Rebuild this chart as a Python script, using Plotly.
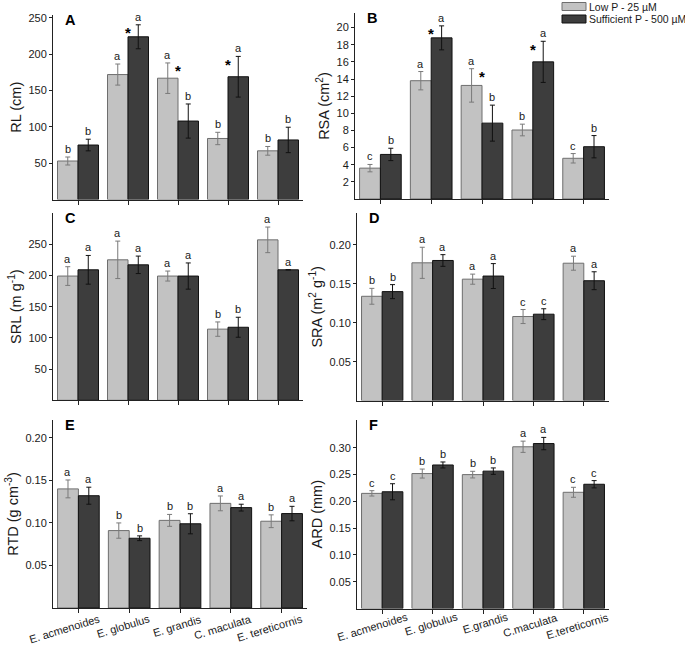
import plotly.graph_objects as go

W, H = 685, 650

species_E = ["E. acmenoides", "E. globulus", "E. grandis", "C. maculata", "E. tereticornis"]
species_F = ["E. acmenoides", "E. globulus", "E.grandis", "C.maculata", "E.tereticornis"]

series_names = ["Low P - 25 µM", "Sufficient P - 500 µM"]

# Panel A: RL (cm)
RL_low = [53, 172, 167, 84, 67]
RL_low_err = [5.5, 14.5, 21, 8.5, 6]
RL_suf = [75, 224, 108, 169, 82]
RL_suf_err = [8, 16.5, 23.5, 28, 17.5]
RL_let_low = ["b", "a", "a", "b", "b"]
RL_let_suf = ["b", "a", "b", "a", "b"]
RL_star = [False, True, True, True, False]

# Panel B: RSA (cm2)
RSA_low = [3.6, 13.8, 13.25, 8.05, 4.75]
RSA_low_err = [0.43, 1.07, 1.95, 0.68, 0.55]
RSA_suf = [5.2, 18.8, 8.85, 16.0, 6.1]
RSA_suf_err = [0.72, 1.4, 2.1, 2.4, 1.3]
RSA_let_low = ["c", "a", "a", "b", "c"]
RSA_let_suf = ["b", "a", "b", "a", "b"]
RSA_star = [False, True, True, True, False]

# Panel C: SRL (m g-1)
SRL_low = [199, 225, 199, 114, 257]
SRL_low_err = [15, 30, 8, 11.5, 20.5]
SRL_suf = [209, 217, 199, 117, 209]
SRL_suf_err = [23, 14, 21, 16, 0]
SRL_let_low = ["a", "a", "a", "b", "a"]
SRL_let_suf = ["a", "a", "a", "b", "a"]

# Panel D: SRA (m2 g-1)
SRA_low = [0.134, 0.177, 0.156, 0.108, 0.1765]
SRA_low_err = [0.0102, 0.02, 0.0065, 0.009, 0.009]
SRA_suf = [0.140, 0.180, 0.160, 0.111, 0.154]
SRA_suf_err = [0.009, 0.0075, 0.016, 0.007, 0.0115]
SRA_let_low = ["b", "a", "a", "c", "a"]
SRA_let_suf = ["b", "a", "a", "c", "a"]

# Panel E: RTD (g cm-3)
RTD_low = [0.140, 0.091, 0.103, 0.123, 0.102]
RTD_low_err = [0.0105, 0.009, 0.007, 0.0087, 0.0075]
RTD_suf = [0.132, 0.082, 0.099, 0.118, 0.111]
RTD_suf_err = [0.010, 0.0028, 0.0118, 0.004, 0.0085]
RTD_let_low = ["a", "b", "b", "a", "b"]
RTD_let_suf = ["a", "b", "b", "a", "a"]

# Panel F: ARD (mm)
ARD_low = [0.215, 0.252, 0.250, 0.302, 0.217]
ARD_low_err = [0.005, 0.0084, 0.0062, 0.0105, 0.0093]
ARD_suf = [0.218, 0.268, 0.2565, 0.308, 0.232]
ARD_suf_err = [0.015, 0.0056, 0.006, 0.0115, 0.0068]
ARD_let_low = ["c", "b", "b", "a", "c"]
ARD_let_suf = ["c", "b", "b", "a", "c"]

NO_STAR = [False] * 5

panels = [
    dict(tag="A", title="RL (cm)", low=RL_low, le=RL_low_err, suf=RL_suf, se=RL_suf_err,
         ll=RL_let_low, sl=RL_let_suf, star=RL_star, rng=[0, 254],
         tv=[50, 100, 150, 200, 250], tt=["50", "100", "150", "200", "250"],
         px=(53, 303), py=(15, 199.5), cats=None, lab=None),
    dict(tag="B", title="RSA (cm<sup>2</sup>)", low=RSA_low, le=RSA_low_err, suf=RSA_suf, se=RSA_suf_err,
         ll=RSA_let_low, sl=RSA_let_suf, star=RSA_star, rng=[0, 21.7],
         tv=[2, 4, 6, 8, 10, 12, 14, 16, 18, 20], tt=["2", "4", "6", "8", "10", "12", "14", "16", "18", "20"],
         px=(355, 609), py=(13, 199), cats=None, lab=None),
    dict(tag="C", title="SRL (m g<sup>-1</sup>)", low=SRL_low, le=SRL_low_err, suf=SRL_suf, se=SRL_suf_err,
         ll=SRL_let_low, sl=SRL_let_suf, star=NO_STAR, rng=[0, 300],
         tv=[50, 100, 150, 200, 250], tt=["50", "100", "150", "200", "250"],
         px=(53, 303), py=(213, 400.3), cats=None, lab=None),
    dict(tag="D", title="SRA (m<sup>2</sup> g<sup>-1</sup>)", low=SRA_low, le=SRA_low_err, suf=SRA_suf, se=SRA_suf_err,
         ll=SRA_let_low, sl=SRA_let_suf, star=NO_STAR, rng=[0, 0.241],
         tv=[0.05, 0.10, 0.15, 0.20], tt=["0.05", "0.10", "0.15", "0.20"],
         px=(357, 609), py=(213, 400.6), cats=None, lab=None),
    dict(tag="E", title="RTD (g cm<sup>-3</sup>)", low=RTD_low, le=RTD_low_err, suf=RTD_suf, se=RTD_suf_err,
         ll=RTD_let_low, sl=RTD_let_suf, star=NO_STAR, rng=[0, 0.221],
         tv=[0.05, 0.10, 0.15, 0.20], tt=["0.05", "0.10", "0.15", "0.20"],
         px=(53, 307), py=(420, 608), cats=species_E, lab=(25, 610)),
    dict(tag="F", title="ARD (mm)", low=ARD_low, le=ARD_low_err, suf=ARD_suf, se=ARD_suf_err,
         ll=ARD_let_low, sl=ARD_let_suf, star=NO_STAR, rng=[0, 0.352],
         tv=[0.05, 0.10, 0.15, 0.20, 0.25, 0.30], tt=["0.05", "0.10", "0.15", "0.20", "0.25", "0.30"],
         px=(357, 609), py=(420, 608.5), cats=species_F, lab=(29, 608)),
]

LIGHT = "#c2c2c2"
LIGHT_LINE = "#6e6e6e"
DARK = "#3d3d3d"
DARK_LINE = "#111111"
FONT = "Arial, Liberation Sans, sans-serif"
TXT = "#1a1a1a"

fig = go.Figure()
annotations = []
shapes = []
layout = {}
xpos = list(range(5))
half = (1 - 0.18) / 4  # offset of each bar centre from the category centre

for k, p in enumerate(panels):
    n = "" if k == 0 else str(k + 1)
    xa, ya = "x" + n, "y" + n
    fig.add_trace(go.Bar(x=xpos, y=p["low"], name=series_names[0], xaxis=xa, yaxis=ya,
                         marker=dict(color=LIGHT, line=dict(color=LIGHT_LINE, width=1)),
                         error_y=dict(type="data", array=p["le"], color="#7a7a7a", thickness=1, width=2.5),
                         offsetgroup="low", showlegend=False))
    fig.add_trace(go.Bar(x=xpos, y=p["suf"], name=series_names[1], xaxis=xa, yaxis=ya,
                         marker=dict(color=DARK, line=dict(color=DARK_LINE, width=1)),
                         error_y=dict(type="data", array=p["se"], color="#111111", thickness=1, width=2.5),
                         offsetgroup="suf", showlegend=False))
    x0, x1 = p["px"]
    y0, y1 = p["py"]
    xdom = [x0 / W, x1 / W]
    ydom = [1 - y1 / H, 1 - y0 / H]
    layout["xaxis" + n] = dict(domain=xdom, anchor=ya, range=[-0.5, 4.5], automargin=False,
                               tickvals=xpos, showticklabels=False,
                               ticks="outside", ticklen=4, tickcolor="#222", tickwidth=1,
                               showline=True, linecolor="#222", linewidth=1,
                               showgrid=False, zeroline=False)
    layout["yaxis" + n] = dict(domain=ydom, anchor=xa, range=p["rng"], automargin=False,
                               tickvals=p["tv"], ticktext=p["tt"],
                               ticks="outside", ticklen=3, tickcolor="#222", tickwidth=1,
                               showline=True, linecolor="#222", linewidth=1,
                               showgrid=False, zeroline=False,
                               tickfont=dict(family=FONT, size=11, color=TXT),
                               title=dict(text=p["title"], font=dict(family=FONT, size=14.5, color=TXT),
                                          standoff=3))
    # rotated category labels
    if p["cats"] is not None:
        dx, ytop = p["lab"]
        for i, c in enumerate(p["cats"]):
            annotations.append(dict(text=c, xref=xa, yref="paper", x=i, xshift=dx,
                                    y=1 - ytop / H, xanchor="right", yanchor="top",
                                    textangle=-17, showarrow=False,
                                    font=dict(family=FONT, size=11, color=TXT)))
    # panel letter
    annotations.append(dict(text="<b>%s</b>" % p["tag"], xref="paper", yref="paper",
                            x=(x0 + 10) / W, y=1 - (y0 - 5) / H, xanchor="left", yanchor="top",
                            showarrow=False, font=dict(family=FONT, size=14.5, color="#000")))
    # significance letters
    for i in range(5):
        for vals, errs, lets, side in ((p["low"], p["le"], p["ll"], -1), (p["suf"], p["se"], p["sl"], 1)):
            annotations.append(dict(text=lets[i], xref=xa, yref=ya, x=i + side * half,
                                    y=vals[i] + errs[i], yanchor="bottom", xanchor="center",
                                    yshift=0, showarrow=False,
                                    font=dict(family=FONT, size=11, color=TXT)))
        if p["star"][i]:
            top = max(p["low"][i] + p["le"][i], p["suf"][i] + p["se"][i])
            annotations.append(dict(text="<b>*</b>", xref=xa, yref=ya, x=i, y=top,
                                    yanchor="middle", xanchor="center", yshift=-8, showarrow=False,
                                    font=dict(family=FONT, size=15, color="#000")))

# legend drawn manually
leg_rows = [(series_names[0], LIGHT, LIGHT_LINE, 6.5), (series_names[1], DARK, DARK_LINE, 19)]
for name, fc, lc, cy in leg_rows:
    shapes.append(dict(type="rect", xref="paper", yref="paper",
                       x0=562 / W, x1=586 / W, y0=1 - (cy + 4) / H, y1=1 - (cy - 4) / H,
                       fillcolor=fc, line=dict(color=lc, width=1)))
    annotations.append(dict(text=name, xref="paper", yref="paper", x=587 / W, y=1 - cy / H,
                            xanchor="left", yanchor="middle", showarrow=False,
                            font=dict(family=FONT, size=10.5, color=TXT)))

fig.update_layout(width=W, height=H, margin=dict(l=0, r=0, t=0, b=0, autoexpand=False),
                  paper_bgcolor="white", plot_bgcolor="white",
                  barmode="group", bargap=0.18, bargroupgap=0,
                  annotations=annotations, shapes=shapes, showlegend=False,
                  font=dict(family=FONT), **layout)

fig.write_html("out.html", config={"displayModeBar": False},
               post_script="document.body.style.margin='0';document.body.style.padding='0';")
